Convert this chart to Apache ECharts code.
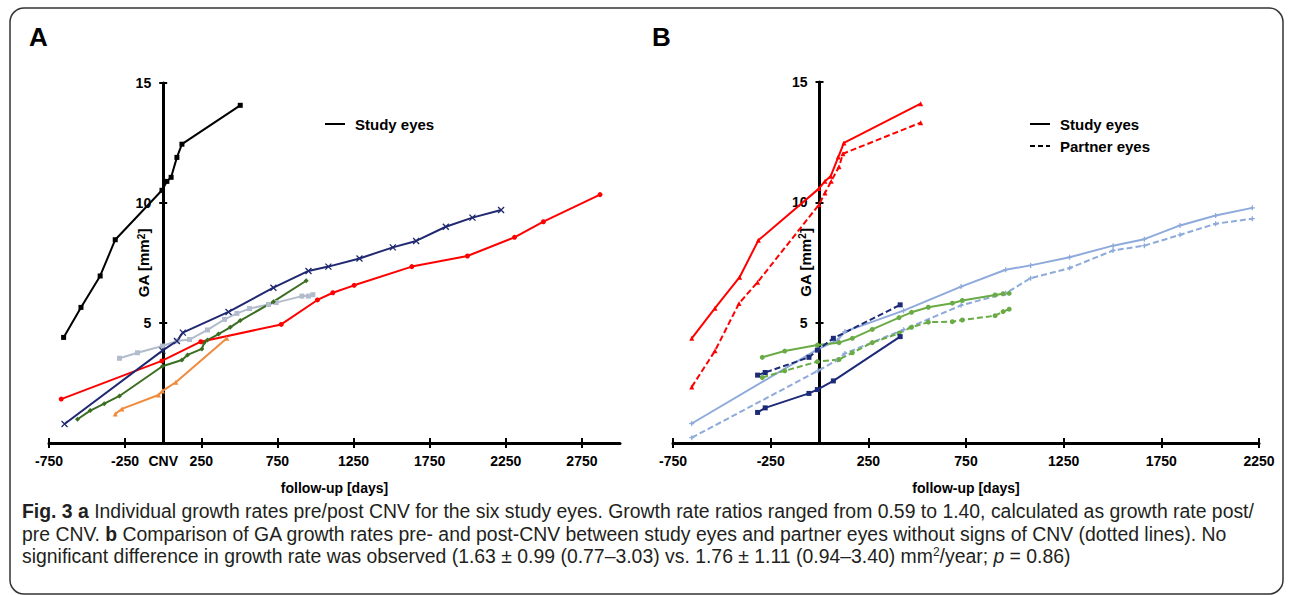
<!DOCTYPE html>
<html><head><meta charset="utf-8">
<script src="https://cdn.jsdelivr.net/npm/echarts@6.0.0/dist/echarts.min.js"></script>
<style>html,body{margin:0;padding:0;background:#fff}#c{width:1292px;height:595px}</style>
</head><body><div id="c"></div>
<script>
// ---------- Panel A data (study eyes) ----------
const aBlackX  = [-654,-540,-414,-315,-8,24,52,90,123,506];
const aBlackY  = [4.4,5.65,6.96,8.47,10.53,10.9,11.07,11.9,12.45,14.07];
const aNavyX   = [-648,-5,90,129,429,724,954,1085,1289,1508,1661,1856,2031,2219];
const aNavyY   = [0.79,3.85,4.25,4.6,5.46,6.47,7.17,7.35,7.69,8.15,8.42,9.01,9.39,9.71];
const aRedX    = [-670,-9,247,775,1013,1114,1254,1633,1998,2307,2497,2869];
const aRedY    = [1.83,3.42,4.22,4.94,5.96,6.26,6.57,7.35,7.79,8.57,9.22,10.35];
const aGreenX  = [-563,-479,-387,-287,-5,123,160,254,269,291,363,440,506,724,939];
const aGreenY  = [0.99,1.35,1.64,1.96,3.2,3.46,3.67,3.92,4.18,4.29,4.54,4.82,5.1,5.89,6.76];
const aGrayX   = [-287,-169,-5,90,173,291,403,484,567,691,742,911,954,983];
const aGrayY   = [3.53,3.76,4.04,4.25,4.31,4.71,5.15,5.4,5.6,5.77,5.85,6.12,6.12,6.18];
const aOrangeX = [-315,-271,-31,-5,83,418];
const aOrangeY = [1.21,1.42,2.0,2.17,2.53,4.36];

// ---------- Panel B data (study = solid, partner = dashed) ----------
const bRedX        = [-654,-535,-409,-313,-3,28,57,96,125,518];
const bRedStudyY   = [4.35,5.6,6.89,8.42,10.57,10.88,11.08,11.88,12.47,14.1];
const bRedPartX    = [-654,-535,-412,-317,-3,28,60,100,120,518];
const bRedPartY    = [2.33,3.83,5.8,6.68,9.9,10.39,10.88,11.48,12.02,13.31];
const bBlueX       = [-654,-8,92,130,430,725,953,1081,1281,1503,1663,1846,2028,2216];
const bBlueStudyY  = [0.81,3.9,4.27,4.63,5.5,6.5,7.2,7.38,7.72,8.2,8.47,9.04,9.45,9.77];
const bBluePartY   = [0.22,3.0,3.45,3.72,4.71,5.72,6.22,6.85,7.27,8.0,8.2,8.65,9.11,9.32];
const bGreenX      = [-293,-178,-11,100,168,270,407,471,557,680,731,899,940,971];
const bGreenStudyY = [3.56,3.82,4.07,4.17,4.35,4.72,5.21,5.43,5.64,5.81,5.92,6.15,6.2,6.22];
const bGreenPartY  = [2.72,3.0,3.38,3.47,3.75,4.17,4.56,4.81,5.02,5.04,5.11,5.29,5.46,5.56];
const bNavyX       = [-317,-278,-54,-11,71,413];
const bNavyStudyY  = [1.27,1.46,2.06,2.22,2.58,4.42];
const bNavyPartY   = [2.82,2.93,3.56,3.86,4.35,5.74];

// ---------- axis ticks / labels ----------
const xTicksA  = [-750,-250,250,750,1250,1750,2250,2750];
const xLabelsA = [-750,-250,0,250,750,1250,1750,2250,2750];
const xTicksB  = [-750,-250,250,750,1250,1750,2250];
const yTicks   = [5,10,15];

const FONT = "'Liberation Sans', Arial, sans-serif";
const CAPFONT = "'Liberation Sans', Arial, sans-serif";
const tickLine = {color:'#000', width:2};

const GA = {left:49, top:83, width:571, height:360, min:-750, max:3000};
const GB = {left:673, top:82, width:586, height:361, min:-750, max:2250};
function zeroOffset(g) { return -(0 - g.min) / (g.max - g.min) * g.width; }

function xPair(g, gd, ticks, labels, fmt) {
  return [
    {gridIndex:g, type:'value', min:gd.min, max:gd.max, position:'bottom',
     name:'follow-up [days]', nameLocation:'middle', nameGap:37, nameMoveOverlap:false,
     nameTextStyle:{fontFamily:FONT, fontWeight:'bold', fontSize:14, color:'#000', lineHeight:15},
     axisLine:{show:true, onZero:false, lineStyle:{color:'#000', width:3}},
     axisTick:{show:true, inside:false, length:5, customValues:ticks, lineStyle:tickLine},
     axisLabel:{show:true, customValues:labels, formatter:fmt, margin:11,
       fontFamily:FONT, fontWeight:'bold', fontSize:14, color:'#000'},
     splitLine:{show:false}},
    {gridIndex:g, type:'value', min:gd.min, max:gd.max, position:'bottom',
     axisLine:{show:false, onZero:false},
     axisTick:{show:true, inside:true, length:5, customValues:ticks, lineStyle:tickLine},
     axisLabel:{show:false}, splitLine:{show:false}}
  ];
}
function yPair(g, gd, gap) {
  const off = zeroOffset(gd);
  return [
    {gridIndex:g, type:'value', min:0, max:15, interval:5, position:'left', offset:off,
     name:'{a|GA [mm}{s|2}{a|]}', nameLocation:'middle', nameGap:gap, nameRotate:90,
     nameMoveOverlap:false,
     nameTextStyle:{rich:{
       a:{fontFamily:FONT, fontWeight:'bold', fontSize:15, color:'#000'},
       s:{fontFamily:FONT, fontWeight:'bold', fontSize:10, color:'#000', verticalAlign:'top'}}},
     axisLine:{show:true, onZero:false, lineStyle:{color:'#000', width:3}},
     axisTick:{show:true, inside:false, length:4, customValues:yTicks, lineStyle:tickLine},
     axisLabel:{show:true, customValues:yTicks, margin:12,
       fontFamily:FONT, fontWeight:'bold', fontSize:14, color:'#000'},
     splitLine:{show:false}},
    {gridIndex:g, type:'value', min:0, max:15, interval:5, position:'left', offset:off,
     axisLine:{show:false, onZero:false},
     axisTick:{show:true, inside:true, length:4, customValues:yTicks, lineStyle:tickLine},
     axisLabel:{show:false}, splitLine:{show:false}}
  ];
}

const SYM_X = 'path://M0,0L10,10M10,0L0,10';
const SYM_PLUS = 'path://M5,0L5,10M0,5L10,5';
function mk(name, xs, ys, color, symbol, axis, dashed, size) {
  const stroked = (symbol === SYM_X || symbol === SYM_PLUS);
  return {
    name:name, type:'line', xAxisIndex:axis, yAxisIndex:axis,
    data: xs.map((x,i)=>[x, ys[i]]),
    symbol:symbol, symbolSize: size || 5, showSymbol:true, showAllSymbol:true,
    lineStyle:{color:color, width:2, type: dashed ? [6,3] : 'solid'},
    itemStyle:{color: stroked ? 'none' : color, borderColor:color, borderWidth: stroked ? 1.3 : 0},
    silent:true, animation:false
  };
}

const series = [
  mk('A1', aGrayX, aGrayY, '#b3bccd', 'rect', 0),
  mk('A2', aGreenX, aGreenY, '#3b6e22', 'diamond', 0),
  mk('A3', aOrangeX, aOrangeY, '#f08a3c', 'triangle', 0),
  mk('A4', aRedX, aRedY, '#ff0000', 'circle', 0),
  mk('A5', aNavyX, aNavyY, '#1f2870', SYM_X, 0, false, 6),
  mk('A6', aBlackX, aBlackY, '#000000', 'rect', 0),
  mk('B1s', bBlueX, bBlueStudyY, '#8eaadb', SYM_PLUS, 2, false, 5),
  mk('B1p', bBlueX, bBluePartY, '#8eaadb', SYM_PLUS, 2, true, 5),
  mk('B2s', bGreenX, bGreenStudyY, '#6aab46', 'circle', 2),
  mk('B2p', bGreenX, bGreenPartY, '#6aab46', 'circle', 2, true),
  mk('B3s', bNavyX, bNavyStudyY, '#1c2a78', 'rect', 2),
  mk('B3p', bNavyX, bNavyPartY, '#1c2a78', 'rect', 2, true),
  mk('B4s', bRedX, bRedStudyY, '#ff0000', 'triangle', 2),
  mk('B4p', bRedPartX, bRedPartY, '#ff0000', 'triangle', 2, true)
];

function txt(x, y, text, size) {
  return {type:'text', x:x, y:y, silent:true,
    style:{text:text, fontFamily:FONT, fontWeight:'bold', fontSize:size, fill:'#000',
           align:'left', verticalAlign:'middle', lineHeight:size+2}};
}
const CAP = 19.4;
const CAPLH = 20;
function capRich(size) {
  const base = {fontFamily:CAPFONT, fontSize:size, fill:'#231f20', lineHeight:CAPLH};
  return {
    b: Object.assign({}, base, {fontWeight:'bold'}),
    i: Object.assign({}, base, {fontStyle:'italic'}),
    s: {fontFamily:CAPFONT, fontSize:Math.round(size*0.62), fill:'#231f20', verticalAlign:'top', lineHeight:12}
  };
}
function capLine(y, text) {
  return {type:'text', x:22, y:y, silent:true,
    style:{text:text, fontFamily:CAPFONT, fontSize:CAP, fill:'#231f20', align:'left',
           verticalAlign:'middle', lineHeight:CAPLH, rich:capRich(CAP)}};
}

const graphic = [
  {type:'rect', z:-10, silent:true, shape:{x:10, y:8, width:1273, height:586, r:14},
   style:{fill:'none', stroke:'#333', lineWidth:1.5}},
  txt(29, 37, 'A', 26),
  txt(652, 37, 'B', 26),
  {type:'line', silent:true, shape:{x1:325, y1:124, x2:345, y2:124}, style:{stroke:'#000', lineWidth:2}},
  txt(355, 124, 'Study eyes', 15),
  {type:'line', silent:true, shape:{x1:1030, y1:124, x2:1050, y2:124}, style:{stroke:'#000', lineWidth:2}},
  txt(1060, 124, 'Study eyes', 15),
  {type:'line', silent:true, shape:{x1:1030, y1:146, x2:1050, y2:146}, style:{stroke:'#000', lineWidth:2, lineDash:[5,3]}},
  txt(1060, 146, 'Partner eyes', 15),
  capLine(511, '{b|Fig. 3} {b|a} Individual growth rates pre/post CNV for the six study eyes. Growth rate ratios ranged from 0.59 to 1.40, calculated as growth rate post/'),
  capLine(533.5, 'pre CNV. {b|b} Comparison of GA growth rates pre- and post-CNV between study eyes and partner eyes without signs of CNV (dotted lines). No'),
  capLine(556, 'significant difference in growth rate was observed (1.63 ± 0.99 (0.77–3.03) vs. 1.76 ± 1.11 (0.94–3.40) mm{s|2}/year; {i|p} = 0.86)')
];

const chart = echarts.init(document.getElementById('c'), null, {renderer:'svg', width:1292, height:595});
chart.setOption({
  animation:false,
  backgroundColor:'#fff',
  grid:[
    {left:GA.left, top:GA.top, width:GA.width, height:GA.height, containLabel:false, outerBoundsMode:'none'},
    {left:GB.left, top:GB.top, width:GB.width, height:GB.height, containLabel:false, outerBoundsMode:'none'}
  ],
  xAxis: [].concat(
    xPair(0, GA, xTicksA, xLabelsA, v => v === 0 ? 'CNV' : String(v)),
    xPair(1, GB, xTicksB, xTicksB, v => String(v))
  ),
  yAxis: [].concat(yPair(0, GA, 12), yPair(1, GB, 7)),
  series: series,
  graphic: graphic
});
</script></body></html>
